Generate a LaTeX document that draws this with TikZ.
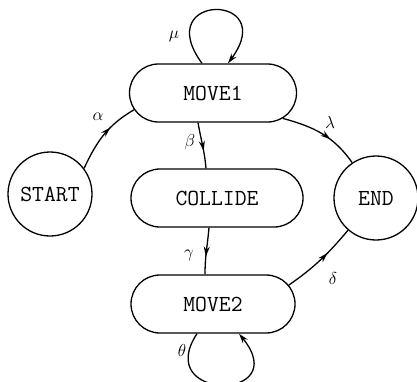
\documentclass[tikz,border=0pt]{standalone}
\usepackage{fontspec}
\usetikzlibrary{shapes.misc,arrows.meta,decorations.markings,calc}
\begin{document}
\begin{tikzpicture}[x=1pt,y=1pt,
  every path/.style={line width=1.3pt},
  statefont/.style={font=\fontsize{23}{25}\ttfamily\addfontfeature{LetterSpace=9}},
  stadium/.style={rounded rectangle, draw, inner sep=0pt, minimum height=58pt, statefont},
  roundstate/.style={circle, draw, inner sep=0pt, minimum size=84pt, statefont},
  greek/.style={font=\fontsize{17}{19}\selectfont, inner sep=0pt},
  tip/.style={-{Stealth[length=10pt,width=6pt]}},
  midarrow/.style={postaction={decorate},decoration={markings,mark=at position 0.62 with {\arrow{Stealth[length=10pt,width=6pt]}}}}
]
\useasboundingbox (0,0) rectangle (417,-381);

\node[roundstate] (start) at (50,-194) {START};
\node[roundstate] (end) at (376,-198) {END};
\node[stadium, minimum width=167pt] (move1) at (213,-93) {MOVE1};
\node[stadium, minimum width=172pt] (collide) at (217,-198) {COLLIDE};
\node[stadium, minimum width=164pt] (move2) at (213,-304) {MOVE2};

% alpha
\draw[midarrow] (start.37) to[out=65,in=210] (move1.192);
% lambda
\draw[midarrow] (move1.-20) to[out=-15,in=125] (end.124);
% delta
\draw[midarrow] (move2.14) to[out=35,in=230] (end.229);
% beta
\draw[midarrow] ($(move1.south)+(-15,0)$) to[out=-80,in=95] ($(collide.north)+(-11,0)$);
% gamma
\draw[midarrow] ($(collide.south)+(-8,0)$) to[out=-95,in=90] ($(move2.north)+(-8,0)$);
% mu loop
\draw[tip] ($(move1.north)+(-11,0)$) .. controls +(-52,71) and +(52,71) .. ($(move1.north)+(15,0)$);
% theta loop
\draw[tip] ($(move2.south)+(-16,0)$) .. controls +(-45,-68) and +(55,-68) .. ($(move2.south)+(26,0)$);

\node[greek] (la) at (98,-117) {$\alpha$};
\node[greek] (lb) at (190,-142) {$\beta$};
\node[greek] (lg) at (189,-255) {$\gamma$};
\node[greek] (ll) at (330,-122) {$\lambda$};
\node[greek] (ld) at (333,-278) {$\delta$};
\node[greek] (lm) at (174,-36) {$\mu$};
\node[greek] (lt) at (182,-350) {$\theta$};
\end{tikzpicture}
\end{document}
